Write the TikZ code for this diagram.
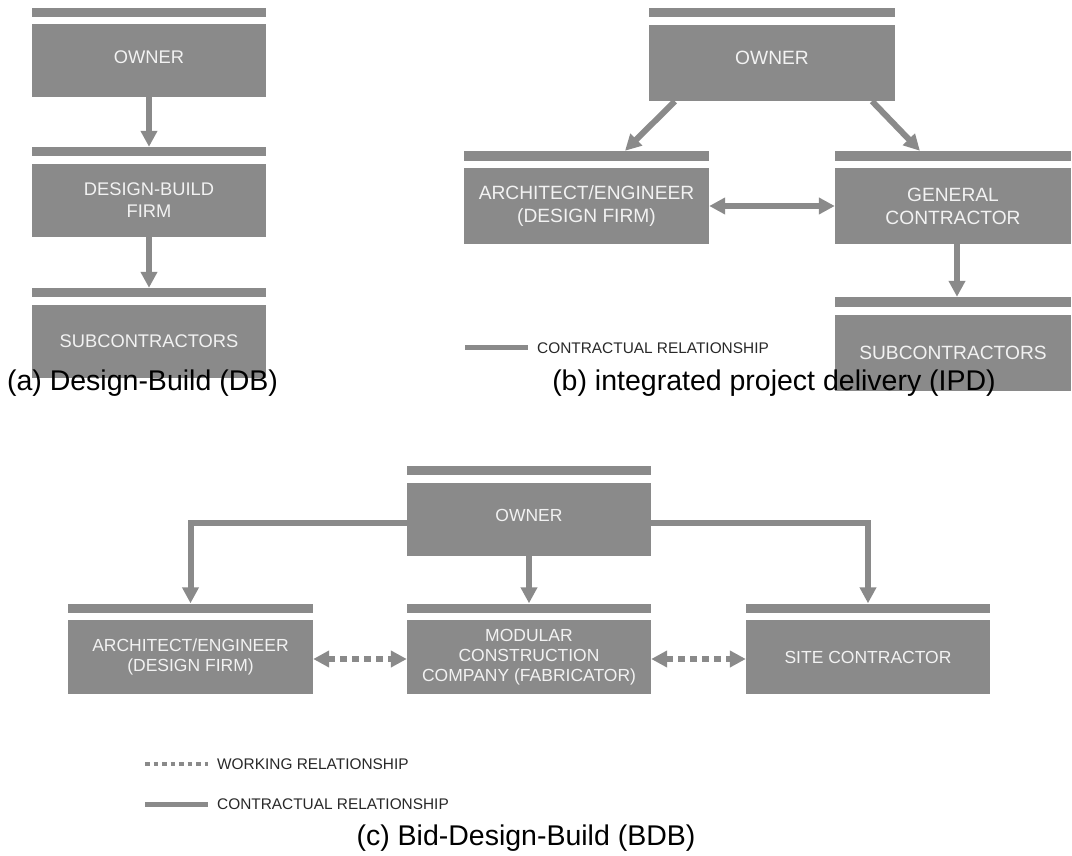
\documentclass[tikz,border=0pt]{standalone}
\usepackage{fontspec}
\setmainfont{Liberation Sans}
\usetikzlibrary{arrows.meta,calc}

\definecolor{boxgray}{RGB}{138,138,138}
\definecolor{boxtext}{RGB}{242,242,242}
\definecolor{keytext}{RGB}{40,40,40}

\newcommand\fa{\fontsize{18.3}{22}\selectfont}
\newcommand\fb{\fontsize{19.2}{23}\selectfont}
\newcommand\fc{\fontsize{17.5}{20}\selectfont}

\begin{document}
\begin{tikzpicture}[x=1pt,y=-1pt,
  block/.style={fill=boxgray, draw=none, inner sep=0pt, text=boxtext, align=center},
  capbar/.style={fill=boxgray, draw=none, inner sep=0pt},
  conn/.style={draw=boxgray, line width=6pt, -{Triangle[width=16pt,length=16pt]}},
  both/.style={draw=boxgray, line width=6pt,
    {Triangle[width=16pt,length=16pt]}-{Triangle[width=16pt,length=16pt]}},
  work/.style={both, dash pattern=on 7pt off 5pt},
  keyline/.style={draw=boxgray, line width=5pt},
  keydots/.style={draw=boxgray, line width=4.5pt, dash pattern=on 4.5pt off 4pt},
  keytxt/.style={text=keytext, font=\fontsize{15.4}{18}\selectfont, anchor=west, inner sep=0pt},
  caption/.style={font=\fontsize{28.5}{34}\selectfont, inner sep=0pt},
]
\useasboundingbox (0,0) rectangle (1072,856);

% ---------- (a) Design-Build ----------
\node[capbar, minimum width=234pt, minimum height=9pt] (aOwnerCap) at (149,12.5) {};
\node[block, minimum width=234pt, minimum height=73pt, font=\fa, text depth=7pt] (aOwner) at (149,60.5) {OWNER};
\node[capbar, minimum width=234pt, minimum height=9pt] (aFirmCap) at (149,151.5) {};
\node[block, minimum width=234pt, minimum height=73pt, font=\fa] (aFirm) at (149,200.5) {DESIGN-BUILD\\FIRM};
\node[capbar, minimum width=234pt, minimum height=9pt] (aSubCap) at (149,292.5) {};
\node[block, minimum width=234pt, minimum height=73pt, font=\fa] (aSub) at (149,341.5) {SUBCONTRACTORS};

\draw[conn] (aOwner.south) -- (aFirmCap.north);
\draw[conn] (aFirm.south) -- (aSubCap.north);

\node[caption] (aCaption) at (142.5,383) {(a) Design-Build (DB)};

% ---------- (b) Integrated project delivery ----------
\node[capbar, minimum width=246pt, minimum height=9pt] (bOwnerCap) at (772,12.5) {};
\node[block, minimum width=246pt, minimum height=76pt, font=\fb, text depth=11pt] (bOwner) at (772,63) {OWNER};
\node[capbar, minimum width=245pt, minimum height=10pt] (bAECap) at (586.5,156) {};
\node[block, minimum width=245pt, minimum height=76pt, font=\fb] (bAE) at (586.5,206) {ARCHITECT/ENGINEER\\(DESIGN FIRM)};
\node[capbar, minimum width=236pt, minimum height=10pt] (bGCCap) at (953,156) {};
\node[block, minimum width=236pt, minimum height=76pt, font=\fb] (bGC) at (953,206) {GENERAL\\CONTRACTOR};
\node[capbar, minimum width=236pt, minimum height=10pt] (bSubCap) at (953,302) {};
\node[block, minimum width=236pt, minimum height=76pt, font=\fb] (bSub) at (953,353) {SUBCONTRACTORS};

\draw[conn] ($(bOwner.south west)!0.106!(bOwner.south east)$) -- ($(bAECap.north west)!0.657!(bAECap.north east)$);
\draw[conn] ($(bOwner.south west)!0.906!(bOwner.south east)$) -- ($(bGCCap.north west)!0.36!(bGCCap.north east)$);
\draw[both] (bAE.east) -- (bGC.west);
\draw[conn] ([xshift=4pt]bGC.south) -- ([xshift=4pt]bSubCap.north);

\coordinate (bKeyA) at (465,347);
\coordinate (bKeyB) at (528,347);
\draw[keyline] (bKeyA) -- (bKeyB);
\node[keytxt] (bKey) at (537,348) {CONTRACTUAL RELATIONSHIP};

\node[caption] (bCaption) at (774,383) {(b) integrated project delivery (IPD)};

% ---------- (c) Bid-Design-Build ----------
\node[capbar, minimum width=244pt, minimum height=9pt] (cOwnerCap) at (529,470.5) {};
\node[block, minimum width=244pt, minimum height=73pt, font=\fc, text depth=9pt] (cOwner) at (529,519.5) {OWNER};
\node[capbar, minimum width=245pt, minimum height=9pt] (cAECap) at (190.5,608) {};
\node[block, minimum width=245pt, minimum height=74pt, font=\fc] (cAE) at (190.5,657) {ARCHITECT/ENGINEER\\(DESIGN FIRM)};
\node[capbar, minimum width=244pt, minimum height=9pt] (cModCap) at (529,608) {};
\node[block, minimum width=244pt, minimum height=74pt, font=\fc] (cMod) at (529,657) {MODULAR\\CONSTRUCTION\\COMPANY (FABRICATOR)};
\node[capbar, minimum width=244pt, minimum height=9pt] (cSiteCap) at (868,608) {};
\node[block, minimum width=244pt, minimum height=74pt, font=\fc] (cSite) at (868,657) {SITE CONTRACTOR};

\draw[conn] ([yshift=-3.5pt]cOwner.west) -| (cAECap.north);
\draw[conn] (cOwner.south) -- (cModCap.north);
\draw[conn] ([yshift=-3.5pt]cOwner.east) -| (cSiteCap.north);
\draw[work] ([yshift=-2pt]cAE.east) -- ([yshift=-2pt]cMod.west);
\draw[work] ([yshift=-2pt]cMod.east) -- ([yshift=-2pt]cSite.west);

\coordinate (cWorkA) at (145,764);
\coordinate (cWorkB) at (208,764);
\draw[keydots] (cWorkA) -- (cWorkB);
\node[keytxt] (cWorkKey) at (217,764) {WORKING RELATIONSHIP};
\coordinate (cContA) at (145,804);
\coordinate (cContB) at (208,804);
\draw[keyline] (cContA) -- (cContB);
\node[keytxt] (cContKey) at (217,804) {CONTRACTUAL RELATIONSHIP};

\node[caption] (cCaption) at (526,838) {(c) Bid-Design-Build (BDB)};
\end{tikzpicture}
\end{document}
